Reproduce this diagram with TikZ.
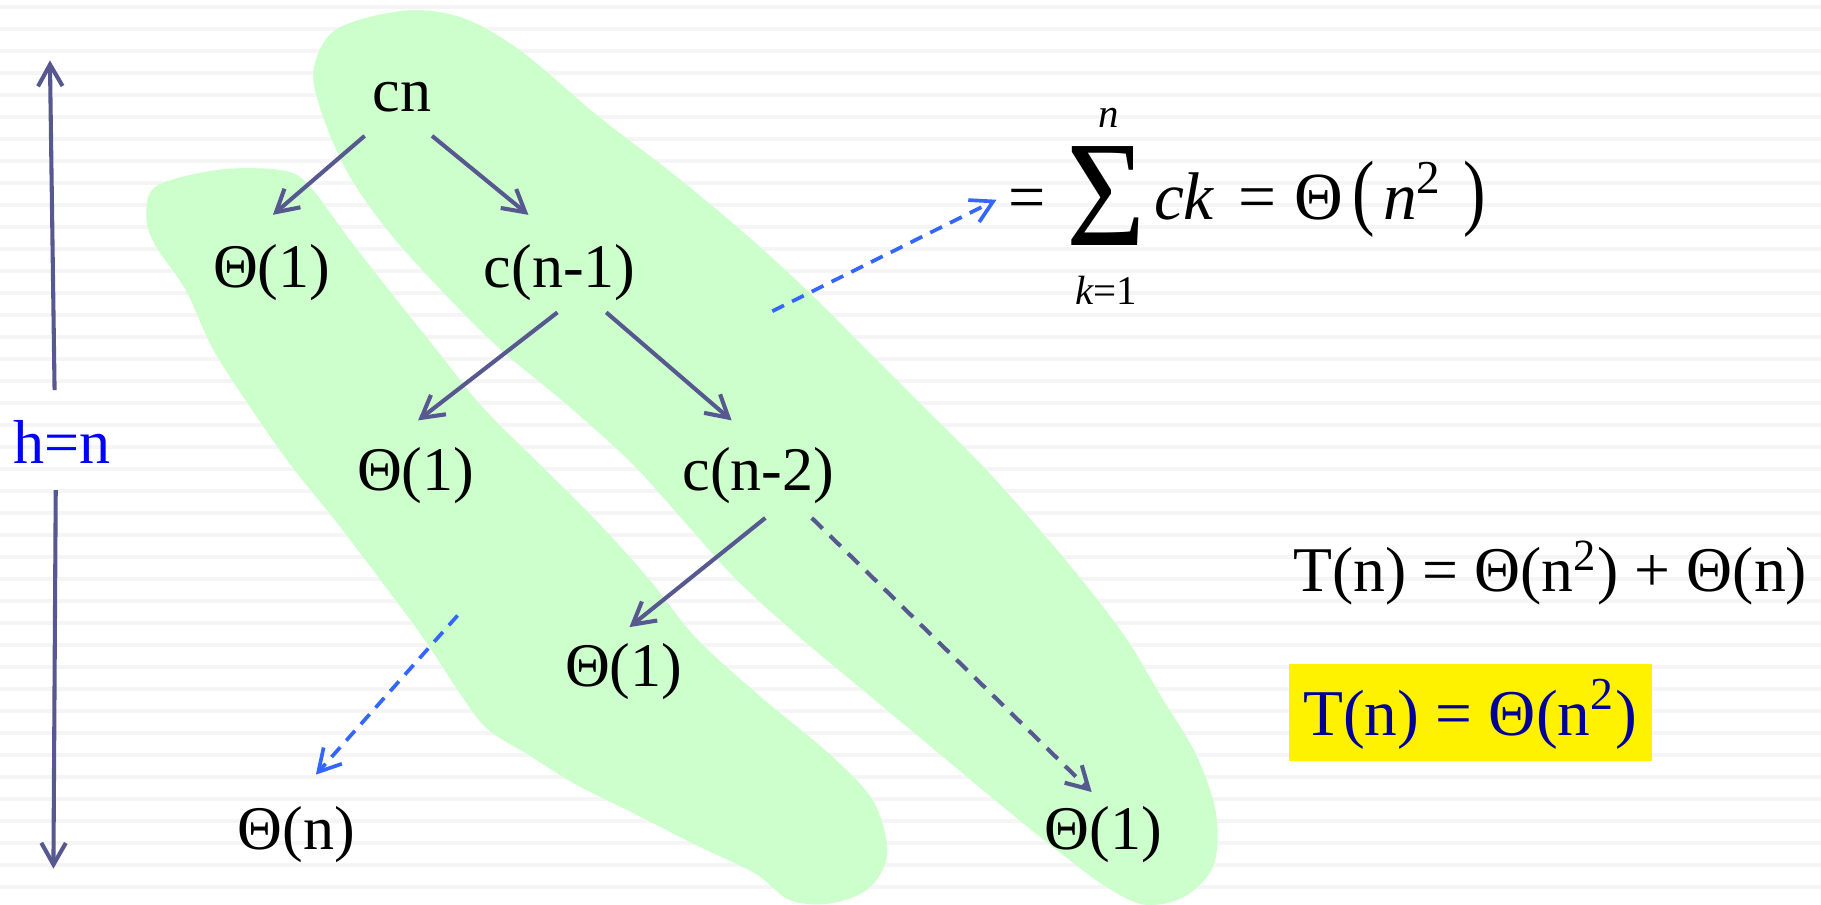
\documentclass[tikz,border=0pt]{standalone}
\usepackage{fontspec}
\setmainfont{Liberation Serif}
\usetikzlibrary{arrows.meta, positioning, calc}
\definecolor{arrGray}{RGB}{88,88,145}
\definecolor{dashBlue}{RGB}{51,102,255}
\definecolor{blobGreen}{RGB}{204,255,204}
\definecolor{boxBlue}{RGB}{0,0,153}
\definecolor{stripeGray}{RGB}{245,245,245}
\tikzset{
  treeNode/.style={inner sep=0pt, anchor=base, font=\fontsize{15.2}{18}\selectfont},
  treeArr/.style={draw=arrGray, line width=1pt, -{Straight Barb[length=5.3pt, width=6pt]}},
  dashArr/.style={treeArr, dash pattern=on 3.7pt off 2.5pt},
  blueArr/.style={treeArr, draw=dashBlue, line width=0.9pt, dash pattern=on 3.2pt off 2.2pt},
  greenBlob/.style={fill=blobGreen, draw=none},
  eqTxt/.style={inner sep=0pt, anchor=base west, font=\fontsize{15.6}{18}\selectfont},
  limTxt/.style={inner sep=0pt, anchor=base, font=\fontsize{10}{12}\selectfont},
}

\begin{document}
\begin{tikzpicture}[x=0.01cm, y=-0.01cm]
\useasboundingbox (0,0) rectangle (1568,779);
\fill[white] (0,0) rectangle (1568,779);
\foreach \k in {0,...,41}
  \draw[stripeGray, line width=1pt] (0,{6+18.94*\k}) -- (1568,{6+18.94*\k});

% the two brushed groups
\fill[greenBlob] plot[smooth cycle, tension=0.55] coordinates {
  (270,60) (290,25) (350,9) (400,16) (450,45) (515,100) (580,150) (640,200)
  (695,250) (745,300) (795,350) (845,400) (890,450) (932,500) (970,550)
  (1000,600) (1030,650) (1047,700) (1045,745) (1020,772) (985,779)
  (950,762) (910,732) (870,700) (810,650) (750,600) (690,550) (635,500)
  (590,450) (545,400) (490,350) (430,300) (380,250) (335,200) (300,150)
  (278,100)};
\fill[greenBlob] plot[smooth cycle, tension=0.55] coordinates {
  (126,185) (135,160) (190,146) (245,147) (268,162) (300,205) (335,250)
  (375,300) (415,350) (465,400) (515,450) (560,500) (600,550) (655,600)
  (715,650) (752,690) (764,735) (748,765) (715,778) (680,775) (650,752)
  (600,728) (545,700) (495,675) (455,650) (420,628) (398,600) (365,550)
  (328,500) (290,450) (250,400) (215,350) (183,300) (160,250) (133,210)};

% recursion tree
\node (cn) [treeNode] at (346,95.6) {cn};
\node (ta) [treeNode] at (234,247.4) {Θ(1)};
\node (cb) [treeNode] at (482,247.4) {c(n-1)};
\node (tb) [treeNode] at (358,422.5) {Θ(1)};
\node (cc) [treeNode] at (653,422.5) {c(n-2)};
\node (tc) [treeNode] at (537,591) {Θ(1)};
\node (tn) [treeNode] at (255,731.6) {Θ(n)};
\node (td) [treeNode] at (950,731.6) {Θ(1)};
\coordinate (leftSum) at (394,530);
\coordinate (rightSum) at (665,268);

\draw [treeArr] ([shift={(-32,21.4)}]cn.base) -- ([shift={(1,-62.4)}]ta.base);
\draw [treeArr] ([shift={(26,21.4)}]cn.base) -- ([shift={(-27,-62.4)}]cb.base);
\draw [treeArr] ([shift={(-2,21.6)}]cb.base) -- ([shift={(2,-60.5)}]tb.base);
\draw [treeArr] ([shift={(40,21.6)}]cb.base) -- ([shift={(-23,-60.5)}]cc.base);
\draw [treeArr] ([shift={(6,23.5)}]cc.base) -- ([shift={(5,-51)}]tc.base);
\draw [dashArr] ([shift={(46,23.5)}]cc.base) -- ([shift={(-10,-49.6)}]td.base);
\draw [blueArr] (leftSum) -- ([shift={(17,-64.6)}]tn.base);

% height
\node (hlab) [treeNode, text=blue] at (53.5,398.8) {h=n};
\coordinate (htop) at (43,52);
\coordinate (hbot) at (46,748);
\draw [treeArr] ([shift={(-6.5,-62.8)}]hlab.base) -- (htop);
\draw [treeArr] ([shift={(-5.5,23.2)}]hlab.base) -- (hbot);

% sum of the right group
\node (eqA) [eqTxt, font=\fontsize{16.2}{18}\selectfont] at (868,189) {=};
\node (sig) [inner sep=0pt, anchor=base, font=\fontsize{37}{40}\selectfont] at (952,211) {\scalebox{0.9}[1]{Σ}};
\node (sumUp) [limTxt] at (955,110) {\textit{n}};
\node (sumLow) [limTxt] at (952.5,261.8) {\textit{k}=1};
\node (sumRest) [eqTxt, font=\fontsize{16.5}{20}\selectfont] at (993,189)
  {\textit{ck}\hspace{0.2cm}=\hspace{0.16cm}Θ\hspace{0.08cm}\scalebox{1}[1.25]{(}\hspace{0.07cm}\textit{n}\textsuperscript{2}\hspace{0.18cm}\scalebox{1}[1.25]{)}};
\draw [blueArr] (rightSum) -- ([shift={(-10,-17)}]eqA.base west);

% result
\node (tsum) [eqTxt] at (1113,509.5) {T(n) = Θ(n\textsuperscript{2}) + Θ(n)};
\node (tres) [fill=yellow, text=boxBlue, inner sep=0pt, minimum width=3.12cm, minimum height=0.833cm,
  text height=0.45cm, text depth=0.06cm, font=\fontsize{16}{18}\selectfont] at (1266,613.4) {T(n) = Θ(n\textsuperscript{2})};
\end{tikzpicture}
\end{document}
